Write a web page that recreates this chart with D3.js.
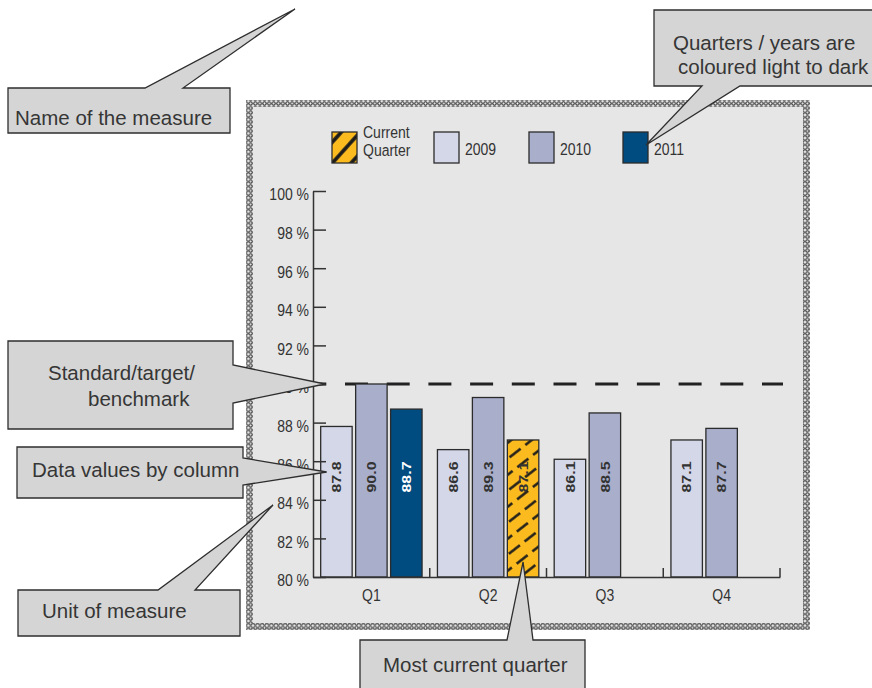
<!DOCTYPE html>
<html>
<head>
<meta charset="utf-8">
<script src="https://cdn.jsdelivr.net/npm/d3@7"></script>
<style>
  html, body { margin: 0; padding: 0; background: #ffffff; }
  svg { display: block; }
  text { font-family: "Liberation Sans", Arial, sans-serif; }
</style>
</head>
<body>
<svg id="chart" width="872" height="688"></svg>
<script>
// ---- data -------------------------------------------------------------
const quarters = ["Q1", "Q2", "Q3", "Q4"];
const years = ["2009", "2010", "2011"];
const values2009 = [87.8, 86.6, 86.1, 87.1];
const values2010 = [90.0, 89.3, 88.5, 87.7];
const values2011 = [88.7, 87.1, null, null];
const targetValue = 90;
const currentQuarter = "Q2";
const currentYear = "2011";
const yTickValues = [80, 82, 84, 86, 88, 90, 92, 94, 96, 98, 100];
const legendLabels = [["Current", "Quarter"], ["2009"], ["2010"], ["2011"]];

// ---- styling ----------------------------------------------------------
const yearColours = { "2009": "#d4d7e8", "2010": "#a9afcb", "2011": "#004b7f" };
const highlightYellow = "#fbbb1f";
const ink = "#333333";
const stretchY = 1.18;          // chart lettering is drawn tall and narrow

const svg = d3.select("#chart");
const defs = svg.append("defs");

// textured frame around the chart panel
const frame = defs.append("pattern").attr("id", "frame")
  .attr("patternUnits", "userSpaceOnUse").attr("width", 4.6).attr("height", 4.6);
frame.append("rect").attr("width", 4.6).attr("height", 4.6).attr("fill", "#f4f4f4");
frame.append("circle").attr("cx", 2.3).attr("cy", 2.3).attr("r", 1.6)
  .attr("fill", "none").attr("stroke", "#2a2a2a").attr("stroke-width", 1.1);

// broken diagonal hatching for the current-quarter bar
const hatch = defs.append("pattern").attr("id", "hatch")
  .attr("patternUnits", "userSpaceOnUse").attr("width", 40).attr("height", 12.6)
  .attr("patternTransform", "rotate(-38)");
hatch.append("rect").attr("width", 40).attr("height", 12.6).attr("fill", highlightYellow);
hatch.append("line").attr("x1", 0).attr("x2", 40).attr("y1", 6.3).attr("y2", 6.3)
  .attr("stroke", "#1a1a1a").attr("stroke-width", 2.6).attr("stroke-dasharray", "14,6");

// bold stripes for the legend swatch
const stripes = defs.append("pattern").attr("id", "stripes")
  .attr("patternUnits", "userSpaceOnUse").attr("width", 20).attr("height", 14)
  .attr("patternTransform", "translate(332,132) rotate(-48)");
stripes.append("rect").attr("width", 20).attr("height", 14).attr("fill", highlightYellow);
stripes.append("line").attr("x1", 0).attr("x2", 20).attr("y1", 7).attr("y2", 7)
  .attr("stroke", "#1a1a1a").attr("stroke-width", 3.6);

// ---- panel ------------------------------------------------------------
svg.append("rect")
  .attr("x", 249.5).attr("y", 103.5).attr("width", 557).attr("height", 523)
  .attr("fill", "#e6e6e6").attr("stroke", "url(#frame)").attr("stroke-width", 7);

// ---- scales -----------------------------------------------------------
const plot = { left: 313, right: 780, top: 191, bottom: 577 };
const y = d3.scaleLinear().domain([80, 100]).range([plot.bottom, plot.top]);
const x0 = d3.scaleBand().domain(quarters).range([plot.left, plot.right]);
const x1 = d3.scaleBand().domain(years).range([0, x0.bandwidth()])
  .paddingInner(0.1).paddingOuter(0.22);

const seriesByYear = { "2009": values2009, "2010": values2010, "2011": values2011 };
const bars = [];
quarters.forEach((q, qi) => {
  years.forEach(yr => {
    const v = seriesByYear[yr][qi];
    if (v != null) bars.push({ quarter: q, year: yr, value: v,
      current: q === currentQuarter && yr === currentYear });
  });
});

// ---- target line ------------------------------------------------------
svg.append("line")
  .attr("x1", plot.left).attr("x2", plot.right + 3)
  .attr("y1", y(targetValue)).attr("y2", y(targetValue))
  .attr("stroke", "#222").attr("stroke-width", 3.2)
  .attr("stroke-dasharray", "23,18.7").attr("stroke-dashoffset", 9.7);

// ---- bars -------------------------------------------------------------
const barG = svg.append("g");
barG.selectAll("rect").data(bars).join("rect")
  .attr("x", d => x0(d.quarter) + x1(d.year))
  .attr("y", d => y(d.value))
  .attr("width", x1.bandwidth())
  .attr("height", d => y(80) - y(d.value))
  .attr("fill", d => d.current ? "url(#hatch)" : yearColours[d.year])
  .attr("stroke", "#2b2b2b").attr("stroke-width", 1.3);

// value labels, rotated and set at a common height inside each column
const labelY = plot.bottom - 100;
barG.selectAll("g.value").data(bars).join("g").attr("class", "value")
  .attr("transform", d => {
    const cx = x0(d.quarter) + x1(d.year) + x1.bandwidth() / 2;
    return `translate(${cx + 4.8},${labelY}) scale(1,${stretchY}) rotate(-90)`;
  })
  .append("text")
  .attr("text-anchor", "middle")
  .attr("font-size", 13.5).attr("font-weight", "bold")
  .attr("fill", d => (d.year === "2011" && !d.current) ? "#ffffff" : ink)
  .text(d => d.value.toFixed(1));

// ---- axes -------------------------------------------------------------
const yAxis = svg.append("g").attr("transform", `translate(${plot.left},0)`)
  .call(d3.axisLeft(y).tickValues(yTickValues).tickSizeInner(-13).tickSizeOuter(0)
    .tickPadding(4).tickFormat(d => d + " %"));
yAxis.select(".domain").attr("stroke", ink).attr("stroke-width", 1.5);
yAxis.selectAll(".tick line").attr("stroke", ink).attr("stroke-width", 1.5);
yAxis.selectAll(".tick text")
  .attr("font-size", 14).attr("font-family", null).attr("fill", ink)
  .attr("dy", 7.6).attr("transform", `scale(1,${stretchY})`);

const xAxis = svg.append("g").attr("transform", `translate(0,${plot.bottom})`)
  .call(d3.axisBottom(x0).tickSize(0).tickSizeOuter(0));
xAxis.select(".domain").attr("stroke", ink).attr("stroke-width", 1.5);
xAxis.selectAll(".tick text")
  .attr("font-size", 14).attr("font-family", null).attr("fill", ink)
  .attr("y", 20.3).attr("dy", 0).attr("transform", `scale(1,${stretchY})`);

// short upright ticks between the quarter groups
svg.append("g").selectAll("line").data(quarters).join("line")
  .attr("x1", q => x0(q) + x0.bandwidth()).attr("x2", q => x0(q) + x0.bandwidth())
  .attr("y1", plot.bottom).attr("y2", plot.bottom - 9)
  .attr("stroke", ink).attr("stroke-width", 1.5);

// ---- legend -----------------------------------------------------------
const legendX = [332, 434, 529, 623];
const legendFill = ["url(#stripes)", yearColours["2009"], yearColours["2010"], yearColours["2011"]];
const legend = svg.append("g");
legendLabels.forEach((lines, i) => {
  legend.append("rect")
    .attr("x", legendX[i]).attr("y", 132).attr("width", 25).attr("height", 31)
    .attr("fill", legendFill[i]).attr("stroke", "#2b2b2b").attr("stroke-width", 1.3);
  const baselines = lines.length === 2 ? [138, 156] : [155];
  lines.forEach((t, j) => {
    legend.append("text")
      .attr("transform", `translate(${legendX[i] + 31},${baselines[j]}) scale(1,${stretchY})`)
      .attr("font-size", 14).attr("fill", ink).text(t);
  });
});

// ---- call-outs --------------------------------------------------------
const tipTarget = [plot.left + 12, y(targetValue)];
const q2Bar = bars.find(d => d.current);
const tipCurrent = [x0(q2Bar.quarter) + x1(q2Bar.year) + x1.bandwidth() / 2, plot.bottom - 15];
const firstBar = bars[0];
const tipValues = [x0(firstBar.quarter) + x1(firstBar.year) + 6, labelY - 5];

const callouts = [
  { path: [[8,88],[145,88],[295,9],[183,88],[230,88],[230,133],[8,133]],
    lines: [["Name of the measure", 15, 125]] },
  { path: [[654,10],[880,10],[880,86],[740,86],[646,145],[702,86],[654,86]],
    lines: [["Quarters / years are", 673, 50], ["coloured light to dark", 678, 74]] },
  { path: [[8,341],[233,341],[233,365],tipTarget,[233,403],[233,429],[8,429]],
    lines: [["Standard/target/", 48, 380], ["benchmark", 88, 406]] },
  { path: [[17,447],[243,447],[243,458],tipValues,[243,485],[243,498],[17,498]],
    lines: [["Data values by column", 32, 477]] },
  { path: [[18,590],[158,590],[273,505],[195,590],[240,590],[240,636],[18,636]],
    lines: [["Unit of measure", 42, 618]] },
  { path: [[360,640],[507,640],tipCurrent,[533,640],[585,640],[585,700],[360,700]],
    lines: [["Most current quarter", 383, 672]] }
];
const calloutG = svg.append("g");
callouts.forEach(c => {
  calloutG.append("path")
    .attr("d", d3.line()(c.path) + "Z")
    .attr("fill", "#d5d5d5").attr("stroke", "#2e2e2e").attr("stroke-width", 1.3)
    .attr("stroke-linejoin", "miter");
  c.lines.forEach(([t, tx, ty]) => {
    calloutG.append("text").attr("x", tx).attr("y", ty)
      .attr("font-size", 20.5).attr("fill", "#363636").text(t);
  });
});
</script>
</body>
</html>
